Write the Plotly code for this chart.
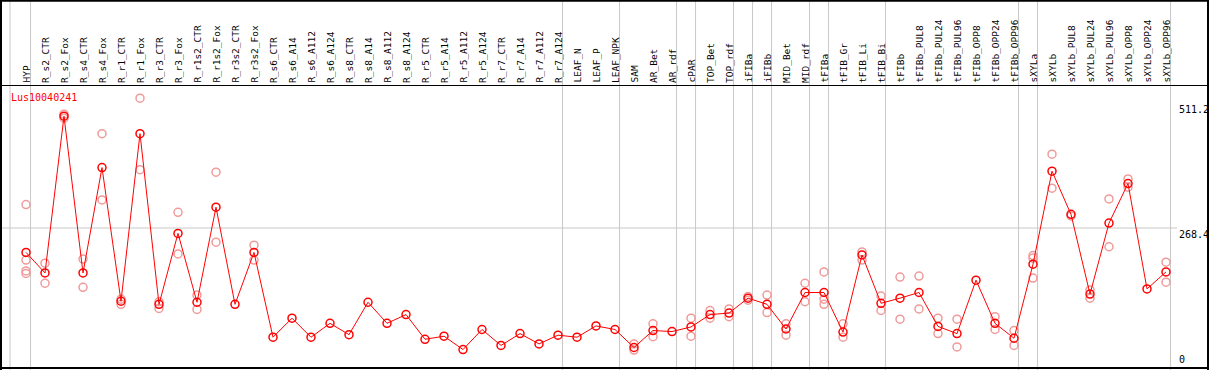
import plotly.graph_objects as go

gene = "Lus10040241"

categories = [
    "HYP", "R_s2_CTR", "R_s2_Fox", "R_s4_CTR", "R_s4_Fox", "R_r1_CTR", "R_r1_Fox",
    "R_r3_CTR", "R_r3_Fox", "R_r1s2_CTR", "R_r1s2_Fox", "R_r3s2_CTR", "R_r3s2_Fox",
    "R_s6_CTR", "R_s6_A14", "R_s6_A112", "R_s6_A124", "R_s8_CTR", "R_s8_A14",
    "R_s8_A112", "R_s8_A124", "R_r5_CTR", "R_r5_A14", "R_r5_A112", "R_r5_A124",
    "R_r7_CTR", "R_r7_A14", "R_r7_A112", "R_r7_A124", "LEAF_N", "LEAF_P", "LEAF_NPK",
    "SAM", "AR_Bet", "AR_rdf", "cPAR", "TOP_Bet", "TOP_rdf", "iFIBa", "iFIBb",
    "MID_Bet", "MID_rdf", "tFIBa", "tFIB_Gr", "tFIB_Li", "tFIB_Bi", "tFIBb",
    "tFIBb_PUL8", "tFIBb_PUL24", "tFIBb_PUL96", "tFIBb_OPP8", "tFIBb_OPP24",
    "tFIBb_OPP96", "sXYLa", "sXYLb", "sXYLb_PUL8", "sXYLb_PUL24", "sXYLb_PUL96",
    "sXYLb_OPP8", "sXYLb_OPP24", "sXYLb_OPP96",
]

mean_values = [
    221, 181, 486, 181, 386, 126, 452, 120, 258, 124, 309, 120, 221,
    56, 93, 56, 83, 61, 124, 83, 100, 52, 58, 32, 71, 40, 63, 43, 60,
    56, 78, 71, 36, 69, 67, 76, 100, 103, 132, 120, 72, 143, 143, 66,
    216, 122, 132, 143, 77, 63, 167, 83, 54, 198, 379, 295, 140, 278,
    355, 150, 183,
]

replicate_values = [
    [314, 206, 185, 180], [200, 161], [490, 482], [208, 153], [452, 323],
    [130, 120], [521, 382], [125, 112], [299, 218], [138, 110], [377, 241],
    [], [235, 206],
    [], [], [], [], [], [], [], [], [], [], [], [], [], [], [], [],
    [], [], [],
    [43, 31], [82, 57], [], [93, 58], [108, 93], [111, 96], [135, 128],
    [138, 104], [82, 60], [161, 125], [183, 130, 120], [82, 56], [222, 206],
    [136, 108], [173, 91], [175, 111], [93, 63], [91, 37], [], [96, 71],
    [69, 40], [215, 210, 171], [412, 346], [292], [148, 132], [325, 232],
    [364, 348], [], [202, 163],
]

axis_labels = ["511.2", "268.4", "0"]
axis_values = [511.2, 268.4, 0]

separators_after = ["HYP", "R_r7_A124", "LEAF_NPK", "AR_rdf", "cPAR", "TOP_rdf",
                    "iFIBa", "iFIBb", "MID_rdf", "tFIBa", "tFIB_Bi", "tFIBb_OPP96",
                    "sXYLa", "sXYLb_OPP96"]

W, H = 1209, 370
RED = "#ff0000"
PINK = "#f09a9a"
GRAY = "#c8c8c8"
FONT = "DejaVu Sans Mono"

rep_x, rep_y = [], []
for cat, reps in zip(categories, replicate_values):
    for v in reps:
        rep_x.append(cat)
        rep_y.append(v)

fig = go.Figure()
fig.add_trace(go.Scatter(
    x=rep_x, y=rep_y, mode="markers",
    marker=dict(symbol="circle-open", size=8, color=PINK, line=dict(width=1.5, color=PINK)),
    showlegend=False, hoverinfo="skip",
))
fig.add_trace(go.Scatter(
    x=categories, y=mean_values, mode="lines+markers",
    line=dict(color=RED, width=1),
    marker=dict(symbol="circle-open", size=8, color=RED, line=dict(width=1.5, color=RED)),
    showlegend=False,
))

shapes = []
idx = {c: i for i, c in enumerate(categories)}
sep_positions = [-0.84] + [idx[c] + 0.24 for c in separators_after]
for p in sep_positions:
    shapes.append(dict(type="line", xref="x", yref="paper", x0=p, x1=p, y0=0, y1=1,
                       line=dict(color=GRAY, width=1), layer="below"))
shapes.append(dict(type="line", xref="paper", yref="y", x0=0, x1=1177 / W,
                   y0=axis_values[1], y1=axis_values[1],
                   line=dict(color=GRAY, width=1), layer="below"))
hy = 1 - 85.5 / H
shapes.append(dict(type="line", xref="paper", yref="paper", x0=0, x1=1, y0=hy, y1=hy,
                   line=dict(color="black", width=1)))
for (x0, y0, x1, y1) in [(1 / W, 0, 1 / W, 1), (1208 / W, 0, 1208 / W, 1),
                         (0, 1 - 0.8 / H, 1, 1 - 0.8 / H), (0, 1 - 368 / H, 1, 1 - 368 / H)]:
    shapes.append(dict(type="line", xref="paper", yref="paper", x0=x0, x1=x1, y0=y0, y1=y1,
                       line=dict(color="black", width=2)))

annotations = []
for cat in categories:
    annotations.append(dict(x=cat, xref="x", y=1 - 84 / H, yref="paper", text=cat,
                            textangle=-90, showarrow=False, xanchor="center", yanchor="bottom",
                            font=dict(family=FONT, size=9.5, color="black"), borderpad=0))
for lab, v in zip(axis_labels, axis_values):
    annotations.append(dict(x=1178 / W, xref="paper", y=v, yref="y", text=lab,
                            showarrow=False, xanchor="left",
                            yanchor="bottom" if v == 0 else "top",
                            font=dict(family=FONT, size=10, color="black"), borderpad=0))
annotations.append(dict(x=10 / W, xref="paper", y=1 - 97.5 / H, yref="paper", text=gene,
                        showarrow=False, xanchor="left", yanchor="middle",
                        font=dict(family=FONT, size=10, color=RED), borderpad=0))

# pixel mapping: x_px = 26 + 19*i ; y_px = 366 - 0.514*v
x_range = [-26 / 19, (W - 26) / 19]
y_range = [(366 - H) / 0.514, 366 / 0.514]

fig.update_layout(
    width=W, height=H, margin=dict(l=0, r=0, t=0, b=0),
    paper_bgcolor="white", plot_bgcolor="white",
    xaxis=dict(type="category", categoryorder="array", categoryarray=categories,
               range=x_range, showgrid=False, zeroline=False, showticklabels=False,
               showline=False, ticks=""),
    yaxis=dict(range=y_range, showgrid=False, zeroline=False, showticklabels=False,
               showline=False, ticks=""),
    shapes=shapes, annotations=annotations,
)

fig.write_html(
    "out.html",
    config={"displayModeBar": False},
    post_script="document.body.style.margin='0';document.body.style.padding='0';"
                "document.body.style.overflow='hidden';",
)
